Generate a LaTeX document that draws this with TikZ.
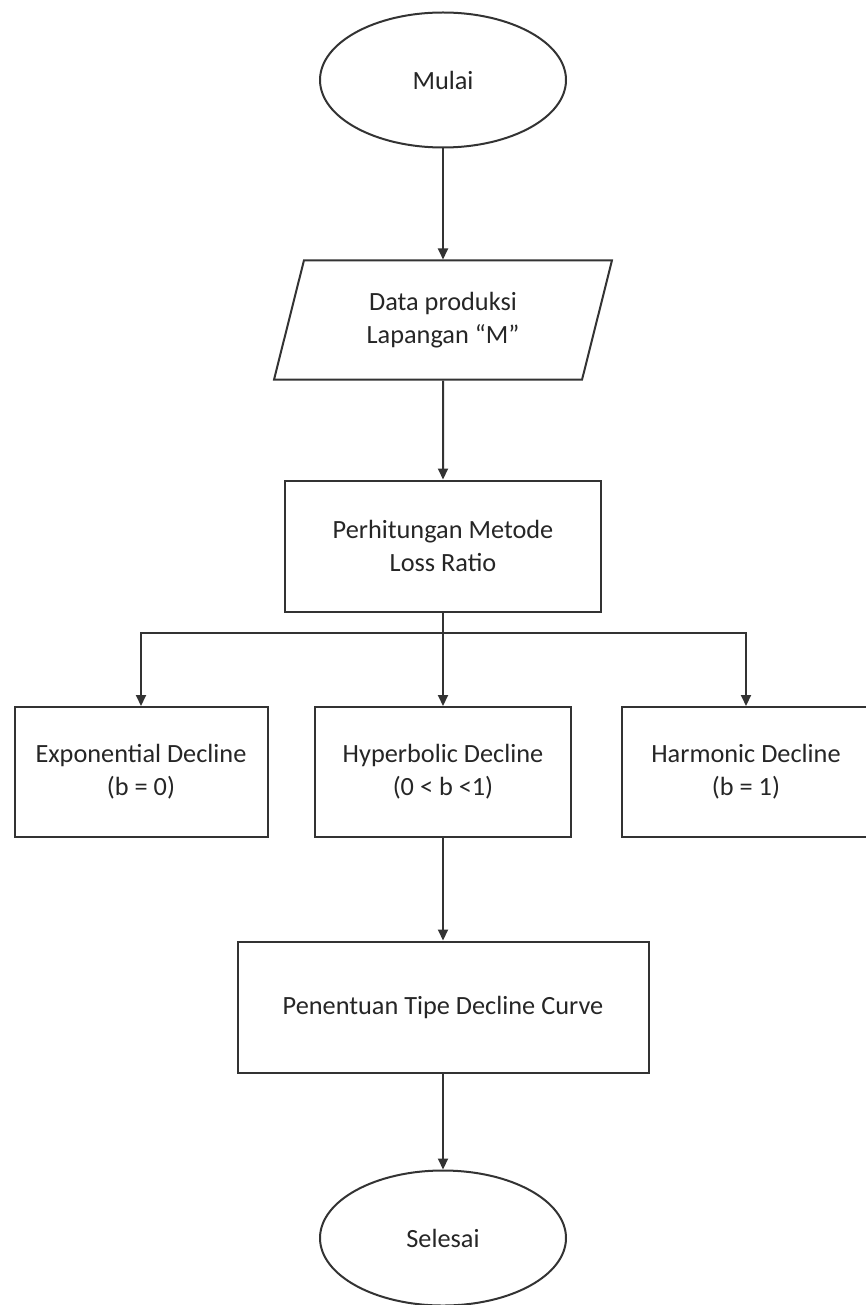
\documentclass[tikz,border=0pt]{standalone}
\usepackage{fontspec}
\setmainfont{Carlito}
\usetikzlibrary{arrows.meta,shapes.geometric}

\begin{document}
\begin{tikzpicture}[x=1pt,y=-1pt,
  line/.style={line width=2pt, draw=black!80},
  arrow/.style={line, -{Triangle[width=10pt,length=11pt]}},
  box/.style={line, rectangle, align=center, text=black!85, inner sep=0pt},
  term/.style={line, ellipse, text=black!85, minimum width=246pt, minimum height=135pt},
  io/.style={line, trapezium, trapezium left angle=76, trapezium right angle=104,
    trapezium stretches=true, minimum width=339pt, minimum height=119pt,
    align=center, text=black!85}]

\def\width{865}
\def\height{1305}
\def\ox{443}

\fontsize{26.3}{33}\selectfont
\path [use as bounding box] (0,0) rectangle (\width,\height);

% TERMINALS
\node [term] (mulai) at (\ox,80) {Mulai};
\node [term] (selesai) at (\ox,1238) {Selesai};

% INPUT
\node [io] (data) at (\ox,320) {Data produksi\\Lapangan “M”};

% PROCESS
\node [box, minimum width=316pt, minimum height=131pt] (loss) at (\ox,546) {Perhitungan Metode\\Loss Ratio};
\node [box, minimum width=253pt, minimum height=130pt] (expo) at (141,772) {Exponential Decline\\(b = 0)};
\node [box, minimum width=256pt, minimum height=130pt] (hyper) at (\ox,772) {Hyperbolic Decline\\(0 < b <1)};
\node [box, minimum width=248pt, minimum height=130pt] (harm) at (746,772) {Harmonic Decline\\(b = 1)};
\node [box, minimum width=411pt, minimum height=131pt] (curve) at (\ox,1007) {Penentuan Tipe Decline Curve};

% FLOW
\coordinate (split) at (\ox,633);
\draw [arrow] (mulai) -- (data);
\draw [arrow] (data) -- (loss);
\draw [line] (loss) -- (split);
\draw [arrow] (split) -| (expo);
\draw [arrow] (split) -- (hyper);
\draw [arrow] (split) -| (harm);
\draw [arrow] (hyper) -- (curve);
\draw [arrow] (curve) -- (selesai);

\end{tikzpicture}
\end{document}
